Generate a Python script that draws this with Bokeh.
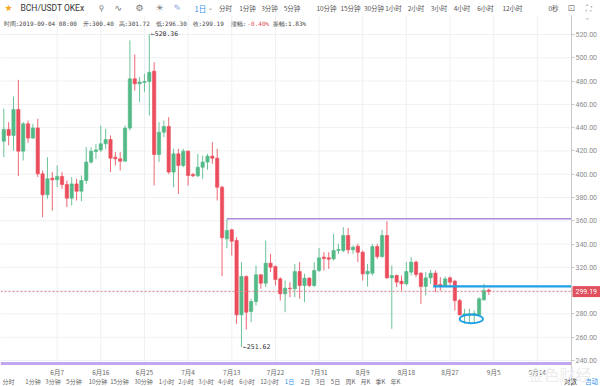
import pandas as pd
from bokeh.plotting import figure
from bokeh.models import (ColumnDataSource, FixedTicker, NumeralTickFormatter,
                          Label, Range1d, LinearAxis)
from bokeh.embed import file_html
from bokeh.resources import INLINE

# ---------------- data ----------------
dates = pd.date_range("2019-05-27", periods=101, freq="D").strftime("%Y-%m-%d").tolist()

opens = [428.4, 438.4, 433.3, 455.6, 419.8, 443.3, 431.0, 439.8, 400.3, 382.3,
         396.6, 395.2, 398.1, 391.2, 379.4, 391.7, 385.4, 394.6, 410.4, 419.5,
         420.9, 426.1, 429.8, 414.6, 413.2, 411.2, 439.6, 481.9, 477.6, 478.8,
         479.6, 488.5, 416.9, 436.1, 441.0, 401.8, 417.5, 407.5, 419.8, 399.8,
         398.6, 406.0, 410.4, 415.5, 413.8, 388.9, 344.5, 352.2, 343.1, 279.2,
         312.2, 282.1, 290.7, 313.6, 306.4, 323.6, 320.7, 310.1, 297.3, 302.1,
         301.6, 316.4, 304.4, 310.7, 304.4, 317.3, 328.8, 328.2, 327.3, 334.5,
         334.5, 347.4, 335.1, 338.2, 333.0, 314.4, 315.0, 337.9, 329.3, 347.4,
         311.0, 313.0, 308.1, 305.9, 315.9, 324.5, 315.0, 303.6, 311.0, 315.0,
         305.3, 304.4, 311.0, 308.1, 291.5, 278.6, 278.6, 278.9, 279.2, 292.1,
         300.40]
highs = [456.2, 444.7, 466.7, 481.1, 444.7, 446.1, 443.3, 447.6, 403.2, 414.6,
         401.8, 407.5, 401.8, 394.6, 397.5, 396.0, 398.9, 423.2, 423.2, 426.1,
         441.8, 439.0, 433.3, 419.0, 419.0, 441.8, 514.9, 502.8, 483.4, 486.2,
         520.36, 496.2, 444.7, 446.1, 449.0, 421.8, 421.8, 421.8, 420.4, 401.2,
         417.5, 416.1, 417.5, 427.5, 421.8, 390.0, 361.7, 353.1, 345.9, 324.5,
         313.0, 293.0, 321.6, 314.4, 343.0, 331.6, 321.6, 311.6, 308.7, 307.3,
         323.0, 324.5, 314.4, 311.6, 324.5, 336.5, 333.0, 333.0, 348.8, 340.2,
         354.5, 353.9, 338.8, 340.2, 334.5, 323.0, 340.2, 340.2, 352.2, 359.7,
         321.6, 313.9, 313.0, 324.5, 328.8, 325.9, 315.9, 315.9, 317.9, 317.3,
         311.6, 312.2, 312.2, 309.3, 293.0, 284.4, 284.4, 283.0, 294.4, 305.9,
         301.72]
lows = [414.6, 424.7, 420.4, 398.3, 411.8, 427.0, 430.4, 397.5, 363.1, 378.9,
        368.8, 388.9, 387.4, 371.7, 373.1, 377.4, 376.9, 391.7, 408.9, 413.2,
        419.0, 421.8, 401.8, 407.5, 403.2, 411.0, 437.6, 471.9, 461.9, 470.5,
        450.4, 390.3, 410.4, 431.8, 400.3, 388.9, 383.1, 406.0, 390.3, 397.5,
        397.5, 396.0, 403.8, 408.9, 377.4, 312.4, 336.5, 330.2, 271.5, 251.62,
        266.6, 272.9, 287.2, 301.6, 303.0, 315.9, 304.4, 291.5, 281.5, 294.4,
        294.4, 293.0, 290.1, 303.0, 303.0, 315.9, 317.3, 318.7, 325.9, 331.6,
        333.0, 331.6, 331.6, 324.5, 308.7, 303.6, 313.0, 327.3, 328.2, 310.1,
        267.2, 303.0, 300.1, 304.4, 313.0, 311.6, 288.7, 295.8, 305.9, 298.7,
        300.1, 303.0, 303.0, 282.9, 278.6, 271.5, 272.9, 272.9, 278.6, 291.5,
        296.30]
closes = [438.4, 433.3, 455.6, 419.8, 443.3, 431.0, 439.8, 400.3, 382.3, 396.0,
          395.2, 398.1, 391.2, 379.4, 391.7, 385.4, 394.6, 410.4, 419.8, 420.9,
          426.1, 429.8, 413.8, 413.2, 411.2, 439.6, 481.9, 477.6, 479.1, 479.6,
          487.6, 416.9, 436.1, 441.0, 401.8, 417.5, 407.5, 419.8, 398.9, 398.6,
          406.0, 410.4, 415.5, 413.8, 388.9, 345.4, 351.7, 342.5, 279.2, 312.2,
          281.5, 290.7, 313.6, 306.4, 323.6, 320.2, 309.6, 297.3, 302.1, 301.6,
          316.4, 304.4, 310.7, 304.4, 317.3, 328.2, 327.6, 327.0, 334.5, 335.3,
          347.4, 335.1, 337.3, 333.0, 314.4, 316.7, 337.9, 329.3, 347.4, 311.0,
          313.0, 307.3, 305.9, 316.4, 324.5, 313.9, 303.6, 311.0, 315.0, 304.4,
          304.1, 310.1, 307.3, 291.5, 279.2, 280.1, 280.1, 280.4, 293.0, 300.1,
          299.19]

tick_dates = ["2019-06-07", "2019-06-16", "2019-06-25", "2019-07-04", "2019-07-13",
              "2019-07-22", "2019-07-31", "2019-08-09", "2019-08-18", "2019-08-27",
              "2019-09-05", "2019-09-14"]
tick_labels = ["6月7", "6月16", "6月25", "7月4", "7月13", "7月22", "7月31",
               "8月9", "8月18", "8月27", "9月5", "9月14"]
y_ticks = [240, 260, 280, 300, 320, 340, 360, 380, 400, 420, 440, 460, 480, 500, 520]

last_close = 299.19
resistance = 361.7
resistance_from = "2019-07-12"
support = 303.6
support_from = "2019-08-23"
floor_line = 237.4
circle_day = "2019-08-31"
circle_low, circle_high = 272.0, 279.5
max_mark = ("2019-06-26", 520.36)
min_mark = ("2019-07-15", 251.62)

info_items = [("时间:2019-09-04 08:00", "#444444"), ("开:300.40", "#444444"),
              ("高:301.72", "#444444"), ("低:296.30", "#444444"),
              ("收:299.19", "#444444"), ("涨幅:", "#444444"), ("-0.40%", "#e0495a"),
              ("振幅:1.83%", "#444444")]
top_items = ["分时", "1分钟", "3分钟", "5分钟", "10分钟", "15分钟", "30分钟",
             "1小时", "2小时", "3小时", "4小时", "6小时", "12小时"]
bottom_items = ["分时", "1分钟", "3分钟", "5分钟", "10分钟", "15分钟", "30分钟",
                "1小时", "2小时", "3小时", "4小时", "6小时", "12小时", "1日",
                "2日", "3日", "5日", "周K", "月K", "季K", "年K"]

# ---------------- layout constants (pixels) ----------------
W, H = 600, 386
PANE_TOP, PANE_BOTTOM, AXIS_X = 15, 365, 571
X0, DX = 3.3, 4.85          # canvas x of first candle, px per day
Y_REF, V_REF, PPU = 34.0, 520.0, 1.1643   # canvas y of 520, px per unit


def cx(px):
    return (px - X0) / DX


def cy(py):
    return V_REF - (py - Y_REF) / PPU


idx = {d: i for i, d in enumerate(dates)}
xs = list(range(len(dates)))
UP, DOWN = "#53b987", "#eb4d5c"
colors = [UP if c >= o else DOWN for o, c in zip(opens, closes)]
src = ColumnDataSource(dict(
    x=xs, open=opens, high=highs, low=lows, close=closes, color=colors,
    top=[max(o, c) for o, c in zip(opens, closes)],
    bottom=[min(o, c) for o, c in zip(opens, closes)],
))

p = figure(width=W, height=H,
           x_range=Range1d(cx(0), cx(W)), y_range=Range1d(cy(H), cy(0)),
           x_axis_type=None, y_axis_type=None,
           output_backend="svg", toolbar_location=None,
           min_border_left=0, min_border_right=0, min_border_top=0, min_border_bottom=0,
           background_fill_color="white", border_fill_color="white")
p.outline_line_color = None
p.grid.visible = False

x_left, x_axis = cx(0), cx(AXIS_X)
y_bot, y_top = cy(PANE_BOTTOM), cy(PANE_TOP)

# grid lines (from tick arrays)
tick_idx = [(pd.Timestamp(d) - pd.Timestamp(dates[0])).days for d in tick_dates]
p.segment(x0=tick_idx, y0=[y_bot] * len(tick_idx), x1=tick_idx, y1=[y_top] * len(tick_idx),
          line_color="#eef0f3", line_width=1)
p.segment(x0=[x_left] * len(y_ticks), y0=y_ticks, x1=[x_axis] * len(y_ticks), y1=y_ticks,
          line_color="#eef0f3", line_width=1)

# axes (fixed inside the canvas)
xaxis = LinearAxis(fixed_location=y_bot, ticker=FixedTicker(ticks=tick_idx),
                   major_label_overrides={t: l for t, l in zip(tick_idx, tick_labels)})
xaxis.axis_line_color = None
xaxis.major_tick_line_color = None
xaxis.minor_tick_line_color = None
xaxis.major_tick_out = 0
xaxis.major_tick_in = 0
xaxis.major_label_standoff = 1
xaxis.major_label_text_font = "Noto Sans CJK SC"
xaxis.major_label_text_font_size = "6.5px"
xaxis.major_label_text_color = "#666666"
p.add_layout(xaxis, "below")

yaxis = LinearAxis(fixed_location=x_axis, ticker=FixedTicker(ticks=y_ticks),
                   formatter=NumeralTickFormatter(format="0.00"),
                   bounds=(cy(H), y_top),
                   major_label_overrides={300: ""})
yaxis.axis_line_color = "#c8c8c8"
yaxis.major_tick_line_color = "#c8c8c8"
yaxis.major_tick_out = 3
yaxis.major_tick_in = 0
yaxis.minor_tick_line_color = None
yaxis.major_label_standoff = 1
yaxis.major_label_text_font = "Roboto"
yaxis.major_label_text_font_size = "7px"
yaxis.major_label_text_color = "#8c8c8c"
p.add_layout(yaxis, "right")

# candles
p.segment(x0="x", y0="low", x1="x", y1="high", line_color="color", line_width=1,
          line_alpha=0.85, source=src)
p.vbar(x="x", width=0.68, top="top", bottom="bottom", fill_color="color",
       line_color="color", line_width=0.6, source=src)

# lines
p.segment(x0=[idx[resistance_from]], y0=[resistance], x1=[x_axis], y1=[resistance],
          line_color="#a98ae0", line_width=1.5)
p.segment(x0=[idx[support_from] + 0.5], y0=[support], x1=[x_axis], y1=[support],
          line_color="#1fa0e4", line_width=2.2)
p.segment(x0=[x_left], y0=[last_close], x1=[x_axis], y1=[last_close],
          line_color="#e3838d", line_dash="2 2", line_width=1)
p.segment(x0=[x_left], y0=[floor_line], x1=[x_axis], y1=[floor_line],
          line_color="#c2a6ee", line_width=3)
p.ellipse(x=[idx[circle_day] + 0.4], y=[(circle_low + circle_high) / 2],
          width=[4.8], height=[circle_high - circle_low], fill_alpha=0,
          line_color="#1fa0e4", line_width=1.8)

# extreme marks
for d, v in [max_mark, min_mark]:
    p.add_layout(Label(x=idx[d], y=v, x_offset=1.5, text="←" + f"{v:.2f}",
                       text_font="DejaVu Sans Mono", text_font_size="6.5px",
                       text_color="#333333", text_baseline="middle"))

# last price tag
p.add_layout(Label(x=cx(AXIS_X + 1), y=last_close, text="299.19", text_font="Roboto",
                   text_font_size="7px", text_color="white", text_baseline="middle",
                   background_fill_color="#e0505f", padding=3))


def lab(px, py, text, size="8px", color="#555555", font="Noto Sans CJK SC",
        align="left"):
    p.add_layout(Label(x=cx(px), y=cy(py), text=text, text_font=font,
                       text_font_size=size, text_color=color,
                       text_baseline="middle", text_align=align))


# top toolbar
lab(4, 7.5, "★", "9px", "#f5a623", "DejaVu Sans")
lab(20, 7.5, "BCH/USDT OKEx", "8.5px", "#333333", "Roboto")
lab(98, 7.5, "⚲", "8px", "#777777", "DejaVu Sans")
lab(114, 7.5, "∿", "9px", "#777777", "DejaVu Sans")
lab(135, 7.5, "⚙", "9px", "#777777", "DejaVu Sans")
lab(155, 7.5, "☀", "9px", "#777777", "DejaVu Sans")
lab(173, 7.5, "✎", "9px", "#8aa8d8", "DejaVu Sans")
lab(194, 7.5, "1日", "7.5px", "#2b8ee8")
lab(207, 7.5, "⌄", "7px", "#999999", "DejaVu Sans")
top_cx = [225, 247, 269, 291.5, 326, 350, 373.5, 393, 415.5, 438.5, 461.5, 485, 512]
for x, t in zip(top_cx, top_items):
    lab(x, 7.5, t, "6.5px", "#555555", align="center")
lab(548, 7.5, "0秒", "6.5px", "#555555")
lab(567, 7.5, "⊡", "9px", "#888888", "DejaVu Sans")
lab(585, 7.5, "⛶", "8px", "#888888", "DejaVu Sans")
lab(584, 20, "⌃", "7px", "#aaaaaa", "DejaVu Sans")

# info line
info_x = [3, 82, 118, 155, 192, 230, 247, 272]
for x, (t, c) in zip(info_x, info_items):
    lab(x, 22.5, t, "6px", c, "DejaVu Sans Mono")

# bottom toolbar
bottom_cx = [8, 32.5, 52.5, 73.5, 97.5, 119, 143, 166, 185.5, 205.5, 225.5, 246.5,
             269, 289, 305, 320, 335, 350, 365, 380, 395]
for x, t in zip(bottom_cx, bottom_items):
    lab(x, 380.5, t, "6px", "#2b8ee8" if t == "1日" else "#666666", align="center")
lab(570, 380.5, "对数", "6.5px", "#333333", align="center")
lab(591, 380.5, "自动", "6.5px", "#2b8ee8", align="center")
lab(527, 373, "金色财经", "16px", "#ececec")

html = file_html(p, INLINE)
open("out.html", "w").write(html)
